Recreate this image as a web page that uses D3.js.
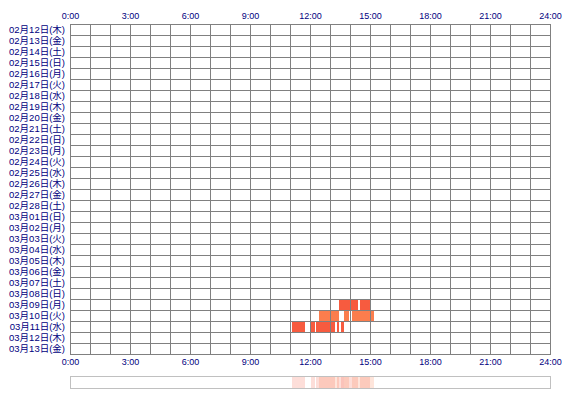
<!DOCTYPE html>
<html>
<head>
<meta charset="utf-8">
<script src="https://cdn.jsdelivr.net/npm/d3@7"></script>
<style>
html,body{margin:0;padding:0;background:#fff;}
svg{display:block;}
text{fill:#000080;}
</style>
</head>
<body>
<svg id="chart" width="570" height="400"></svg>
<script>
const dates = [
  "02月12日(木)","02月13日(金)","02月14日(土)","02月15日(日)","02月16日(月)",
  "02月17日(火)","02月18日(水)","02月19日(木)","02月20日(金)","02月21日(土)",
  "02月22日(日)","02月23日(月)","02月24日(火)","02月25日(水)","02月26日(木)",
  "02月27日(金)","02月28日(土)","03月01日(日)","03月02日(月)","03月03日(火)",
  "03月04日(水)","03月05日(木)","03月06日(金)","03月07日(土)","03月08日(日)",
  "03月09日(月)","03月10日(火)","03月11日(水)","03月12日(木)","03月13日(金)"
];
const hourTicks = [0,3,6,9,12,15,18,21,24];
const hourLabels = ["0:00","3:00","6:00","9:00","12:00","15:00","18:00","21:00","24:00"];

// activity segments (hours)
const segDay = [
  "03月09日(月)","03月09日(月)",
  "03月10日(火)","03月10日(火)","03月10日(火)",
  "03月11日(水)","03月11日(水)","03月11日(水)","03月11日(水)","03月11日(水)"
];
const segStart = [13.45,14.5, 12.45,13.7,14.1, 11.1,12.05,12.3,13.35,13.55];
const segEnd   = [14.4,15.0,  13.45,13.95,15.2, 11.75,12.25,13.25,13.45,13.7];

const svg = d3.select("#chart");
const x = d3.scaleLinear().domain([0,24]).range([70,550]);
const y = d3.scaleBand().domain(dates).range([24,354]).padding(0);
const dayColor = d3.scaleOrdinal()
  .domain(["03月09日(月)","03月10日(火)","03月11日(水)"])
  .range(["#f75b3f","#fb7d4d","#f75b3f"]);

const segs = segDay.map((d,i)=>({day:d,s:segStart[i],e:segEnd[i]}));

// bars
svg.append("g").selectAll("rect").data(segs).join("rect")
  .attr("x",d=>x(d.s)).attr("y",d=>y(d.day))
  .attr("width",d=>x(d.e)-x(d.s)).attr("height",y.bandwidth())
  .attr("fill",d=>dayColor(d.day))
  .attr("shape-rendering","crispEdges");

// grid
const grid = svg.append("g").attr("stroke","#808080").attr("stroke-width",1).attr("shape-rendering","crispEdges");
grid.selectAll("line.v").data(d3.range(0,25)).join("line").attr("class","v")
  .attr("x1",d=>Math.round(x(d))+0.5).attr("x2",d=>Math.round(x(d))+0.5)
  .attr("y1",24.5).attr("y2",354.5);
grid.selectAll("line.h").data(d3.range(0,dates.length+1)).join("line").attr("class","h")
  .attr("x1",70).attr("x2",551)
  .attr("y1",d=>Math.round(24+d*y.bandwidth())+0.5)
  .attr("y2",d=>Math.round(24+d*y.bandwidth())+0.5);

// axes
const topAxis = d3.axisTop(x).tickValues(hourTicks).tickFormat((d,i)=>hourLabels[i]).tickSize(0).tickPadding(0);
const gTop = svg.append("g").attr("transform","translate(0,19)").call(topAxis);
const botAxis = d3.axisBottom(x).tickValues(hourTicks).tickFormat((d,i)=>hourLabels[i]).tickSize(0).tickPadding(0);
const gBot = svg.append("g").attr("transform","translate(0,359)").call(botAxis);
[gTop,gBot].forEach(g=>{
  g.select(".domain").remove();
  g.selectAll("text").attr("font-size",9).attr("fill","#000080")
   .style("font-family","'Liberation Sans','DejaVu Sans',sans-serif");
});

const leftAxis = d3.axisLeft(y).tickSize(0).tickPadding(5);
const gLeft = svg.append("g").attr("transform","translate(70,0)").call(leftAxis);
gLeft.select(".domain").remove();
gLeft.selectAll("text").attr("font-size",9.5).attr("fill","#000080")
  .style("font-family","'Liberation Sans','Noto Sans CJK JP',sans-serif");

// summary strip
svg.append("rect").attr("x",70.5).attr("y",376.5).attr("width",480).attr("height",12)
  .attr("fill","#fff").attr("stroke","#c0c0c0");
svg.append("g").selectAll("rect").data(segs).join("rect")
  .attr("x",d=>x(d.s)).attr("y",377)
  .attr("width",d=>x(d.e)-x(d.s)).attr("height",11)
  .attr("fill",d=>dayColor(d.day)).attr("fill-opacity",0.2)
  .attr("shape-rendering","crispEdges");
</script>
</body>
</html>
